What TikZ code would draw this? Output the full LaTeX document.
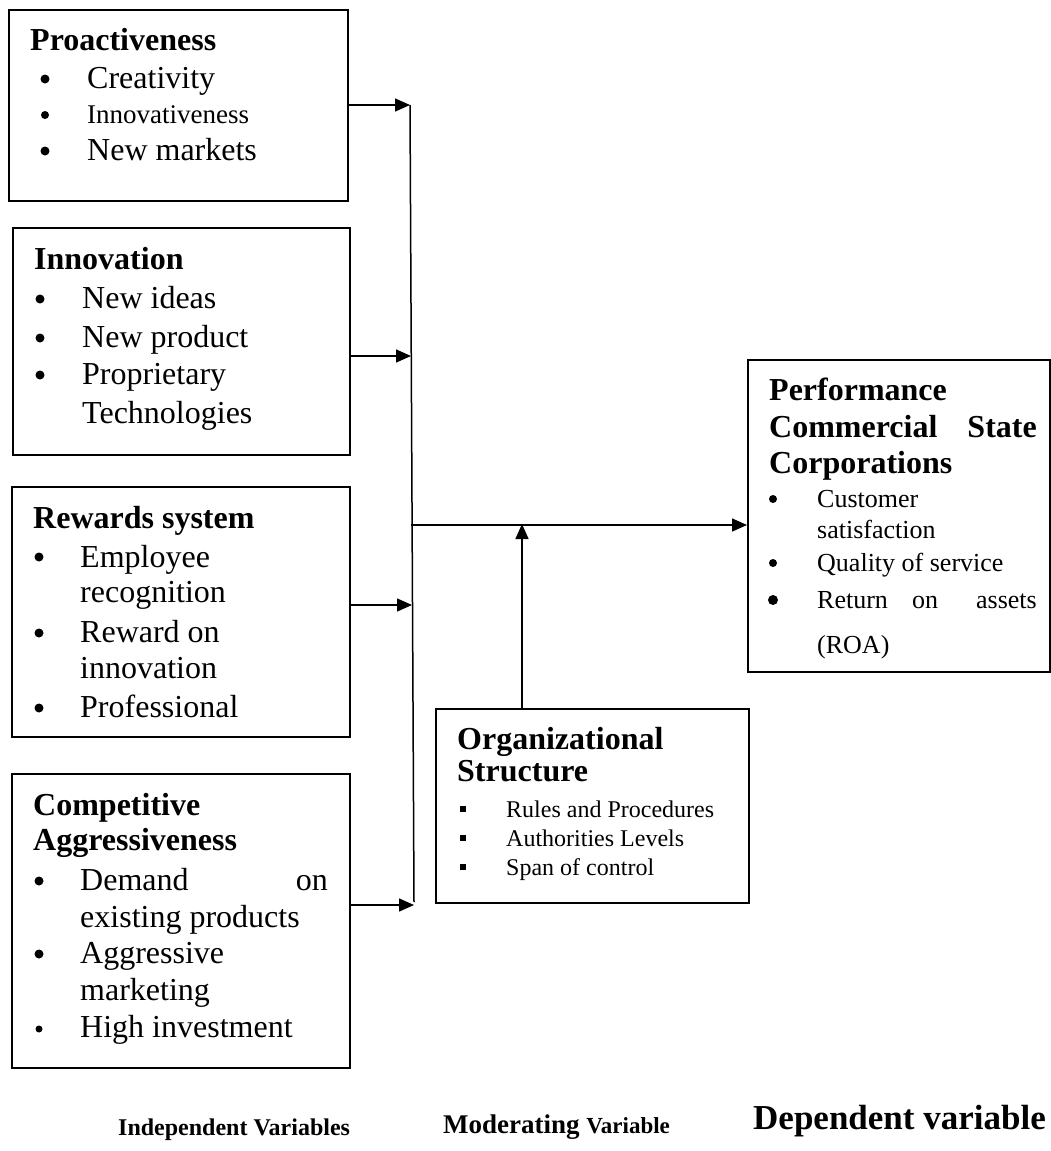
\documentclass[tikz,border=0pt]{standalone}
\usepackage{fontspec}
\setmainfont{Liberation Serif}
\usetikzlibrary{arrows.meta}
\newcommand\myfs[1]{\fontsize{#1}{#1}\selectfont}
\begin{document}
\begin{tikzpicture}[x=1pt,y=-1pt,
  box/.style={draw,line width=2pt,inner sep=0pt,rectangle},
  txt/.style={anchor=base west,inner sep=0pt,font=\myfs{32}},
  txtr/.style={anchor=base east,inner sep=0pt,font=\myfs{32}},
  head/.style={anchor=base west,inner sep=0pt,font=\myfs{32}\bfseries},
  arr/.style={line width=1.5pt,-{Triangle[length=15pt,width=13pt]}},
  conn/.style={line width=1.5pt},
  bul/.style={fill=black}]
\useasboundingbox (0,0) rectangle (1051,1151);
\clip (0,0) rectangle (1051,1151);

% ---------- boxes ----------
\node[box,minimum width=339pt,minimum height=191pt] (b1) at (178.5,105.5) {};
\node[box,minimum width=337pt,minimum height=227pt] (b2) at (181.5,341.5) {};
\node[box,minimum width=338pt,minimum height=250pt] (b3) at (181,612) {};
\node[box,minimum width=338pt,minimum height=294pt] (b4) at (181,921) {};
\node[box,minimum width=313pt,minimum height=194pt] (org) at (592.5,806) {};
\node[box,minimum width=302pt,minimum height=312pt] (perf) at (899,516) {};

% ---------- box 1 ----------
\node[head] (t1) at (30,50) {Proactiveness};
\fill[bul] (45,79) circle (4.5);
\fill[bul] (45,115) circle (4);
\fill[bul] (45,151) circle (4.5);
\node[txt] (t1a) at (87,88) {Creativity};
\node[txt,font=\myfs{27}] (t1b) at (87,123) {Innovativeness};
\node[txt] (t1c) at (87,160) {New markets};

% ---------- box 2 ----------
\node[head] (t2) at (34,269) {Innovation};
\fill[bul] (40,299) circle (4.5);
\fill[bul] (40,338) circle (4.5);
\fill[bul] (40,375) circle (4.5);
\node[txt] (t2a) at (82,308) {New ideas};
\node[txt] (t2b) at (82,347) {New product};
\node[txt] (t2c) at (82,384) {Proprietary};
\node[txt] (t2d) at (82,423) {Technologies};

% ---------- box 3 ----------
\node[head] (t3) at (33,528) {Rewards system};
\fill[bul] (39,557) circle (4.5);
\fill[bul] (39,633) circle (4.5);
\fill[bul] (39,708) circle (4.5);
\node[txt] (t3a) at (80,567) {Employee};
\node[txt] (t3b) at (80,602) {recognition};
\node[txt] (t3c) at (80,642) {Reward on};
\node[txt] (t3d) at (80,678) {innovation};
\node[txt] (t3e) at (80,717) {Professional};

% ---------- box 4 ----------
\node[head] (t4) at (33,815) {Competitive};
\node[head] (t4b) at (33,850) {Aggressiveness};
\fill[bul] (39,881) circle (4.5);
\fill[bul] (39,954) circle (4.5);
\fill[bul] (39,1029) circle (3.5);
\node[txt] (t4c) at (80,890) {Demand};
\node[txtr] (t4d) at (328,890) {on};
\node[txt] (t4e) at (80,927) {existing products};
\node[txt] (t4f) at (80,963) {Aggressive};
\node[txt] (t4g) at (80,1000) {marketing};
\node[txt] (t4h) at (80,1037) {High investment};

% ---------- organizational structure ----------
\node[head] (o1) at (457,749) {Organizational};
\node[head] (o2) at (457,781) {Structure};
\fill[bul] (460,806) rectangle (466,812);
\fill[bul] (460,835) rectangle (466,841);
\fill[bul] (460,864) rectangle (466,870);
\node[txt,font=\myfs{24}] (o3) at (506,817) {Rules and Procedures};
\node[txt,font=\myfs{24}] (o4) at (506,846) {Authorities Levels};
\node[txt,font=\myfs{24}] (o5) at (506,875) {Span of control};

% ---------- performance ----------
\node[head] (p1) at (769,400) {Performance};
\node[head] (p2) at (769,437) {Commercial};
\node[head,anchor=base east] (p3) at (1037,437) {State};
\node[head] (p4) at (769,473) {Corporations};
\fill[bul] (773,499) circle (4);
\fill[bul] (773,563) circle (4);
\fill[bul] (773,600) circle (5);
\node[txt,font=\myfs{26}] (p5) at (817,507) {Customer};
\node[txt,font=\myfs{26}] (p6) at (817,538) {satisfaction};
\node[txt,font=\myfs{26}] (p7) at (817,571) {Quality of service};
\node[txt,font=\myfs{26}] (p8) at (817,608) {Return};
\node[txt,font=\myfs{26}] (p9) at (912,608) {on};
\node[txtr,font=\myfs{26}] (p10) at (1037,608) {assets};
\node[txt,font=\myfs{26}] (p11) at (817,653) {(ROA)};

% ---------- bottom labels ----------
\node[anchor=base west,inner sep=0pt,font=\myfs{24}\bfseries] (l1) at (118,1135) {Independent Variables};
\node[anchor=base west,inner sep=0pt] (l2) at (443,1133) {{\myfs{27}\bfseries Moderating\ }{\myfs{23}\bfseries Variable}};
\node[anchor=base west,inner sep=0pt,font=\myfs{35}\bfseries] (l3) at (753,1129) {Dependent variable};

% ---------- connectors ----------
\coordinate (a1) at (410,105);
\coordinate (a2) at (411,356);
\coordinate (a3) at (412,605);
\coordinate (a4) at (414,905);
\coordinate (hs) at (411,525);
\coordinate (up) at (522,524);
\draw[conn] (a1) -- (414,902);
\draw[arr] (b1.east |- a1) -- (a1);
\draw[arr] (b2.east |- a2) -- (a2);
\draw[arr] (b3.east |- a3) -- (a3);
\draw[arr] (b4.east |- a4) -- (a4);
\draw[arr] (hs) -- (perf.west |- hs);
\draw[arr] (org.north -| up) -- (up);
\end{tikzpicture}
\end{document}
